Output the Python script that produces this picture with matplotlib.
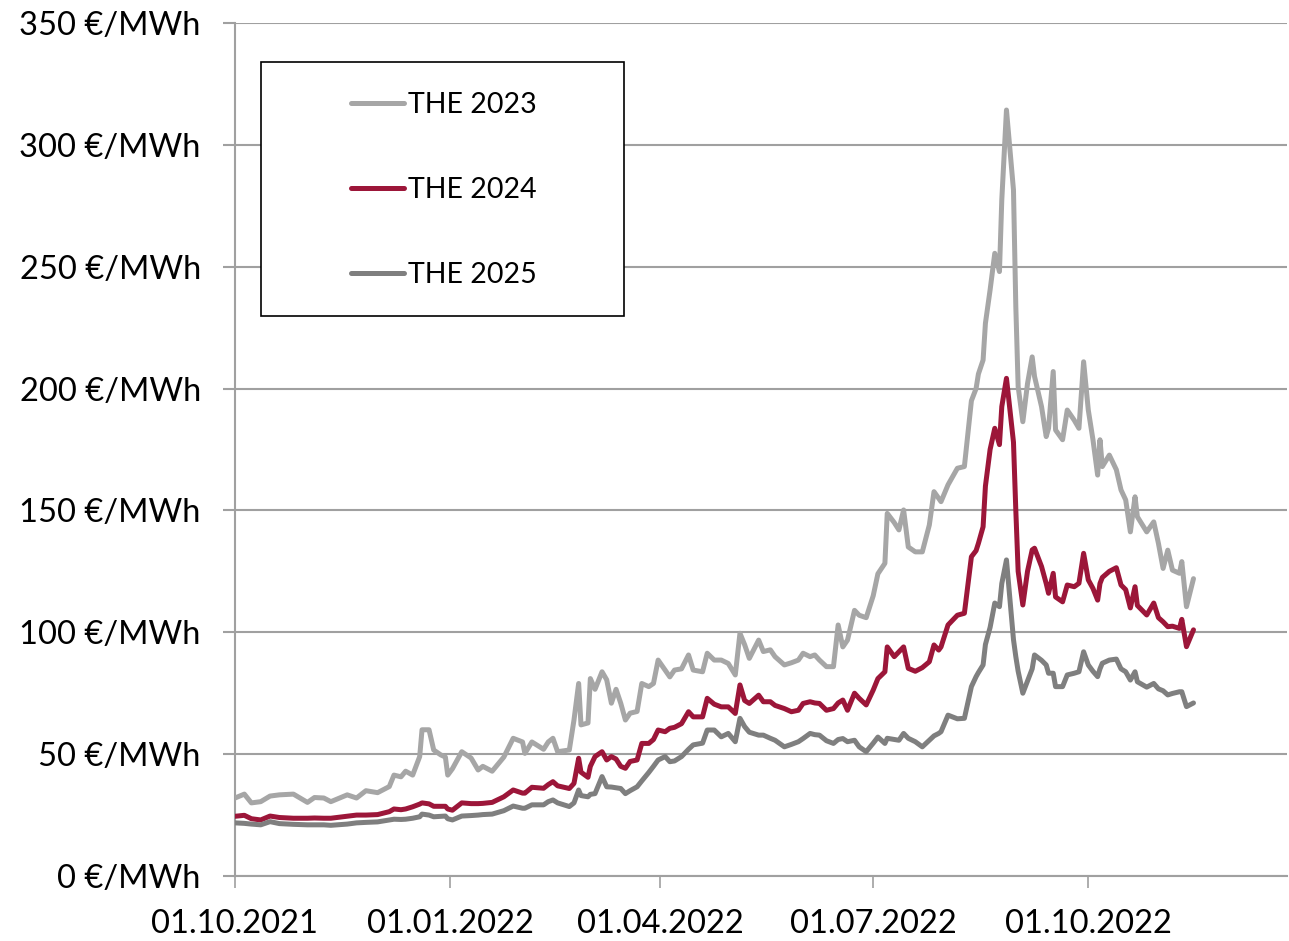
import matplotlib
matplotlib.use("Agg")
import matplotlib.pyplot as plt
import matplotlib.dates as mdates
from matplotlib.patches import Rectangle
from matplotlib.ticker import FuncFormatter
import pandas as pd

dates = [
    "2021-10-01", "2021-10-05", "2021-10-08", "2021-10-12", "2021-10-16", "2021-10-20", "2021-10-26",
    "2021-11-01", "2021-11-04", "2021-11-08", "2021-11-11", "2021-11-18", "2021-11-22", "2021-11-26",
    "2021-12-01", "2021-12-06", "2021-12-08", "2021-12-11", "2021-12-13", "2021-12-16", "2021-12-19",
    "2021-12-20", "2021-12-23", "2021-12-25", "2021-12-28", "2021-12-30", "2021-12-31",
    "2022-01-02", "2022-01-06", "2022-01-10", "2022-01-13", "2022-01-15", "2022-01-19", "2022-01-24",
    "2022-01-28", "2022-02-01", "2022-02-02", "2022-02-05", "2022-02-10", "2022-02-12", "2022-02-14",
    "2022-02-16", "2022-02-21", "2022-02-23", "2022-02-25", "2022-02-26", "2022-03-01", "2022-03-02",
    "2022-03-04", "2022-03-07", "2022-03-09", "2022-03-11", "2022-03-13", "2022-03-15", "2022-03-17",
    "2022-03-19", "2022-03-22", "2022-03-24", "2022-03-27", "2022-03-29", "2022-03-31",
    "2022-04-03", "2022-04-05", "2022-04-07", "2022-04-10", "2022-04-13", "2022-04-15", "2022-04-19",
    "2022-04-21", "2022-04-24", "2022-04-27", "2022-04-30", "2022-05-03", "2022-05-05", "2022-05-07",
    "2022-05-09", "2022-05-13", "2022-05-15", "2022-05-18", "2022-05-20", "2022-05-24", "2022-05-27",
    "2022-05-30", "2022-06-01", "2022-06-04", "2022-06-06", "2022-06-08", "2022-06-11", "2022-06-14",
    "2022-06-16", "2022-06-18", "2022-06-20", "2022-06-23", "2022-06-25", "2022-06-28",
    "2022-07-01", "2022-07-03", "2022-07-06", "2022-07-07", "2022-07-10", "2022-07-12", "2022-07-14",
    "2022-07-16", "2022-07-19", "2022-07-22", "2022-07-25", "2022-07-27", "2022-07-29", "2022-07-30",
    "2022-08-02", "2022-08-06", "2022-08-09", "2022-08-12", "2022-08-14", "2022-08-15", "2022-08-17",
    "2022-08-18", "2022-08-20", "2022-08-22", "2022-08-24", "2022-08-25", "2022-08-27", "2022-08-30",
    "2022-08-31", "2022-09-01", "2022-09-03", "2022-09-05", "2022-09-07", "2022-09-08", "2022-09-11",
    "2022-09-13", "2022-09-14", "2022-09-16", "2022-09-17", "2022-09-20", "2022-09-22", "2022-09-25",
    "2022-09-27", "2022-09-29", "2022-10-01", "2022-10-03", "2022-10-05", "2022-10-06", "2022-10-07",
    "2022-10-10", "2022-10-13", "2022-10-15", "2022-10-17", "2022-10-19", "2022-10-21", "2022-10-22",
    "2022-10-26", "2022-10-29", "2022-10-31", "2022-11-02", "2022-11-04", "2022-11-06", "2022-11-09",
    "2022-11-10", "2022-11-12", "2022-11-15",
]

the_2023 = [
    32, 33.6, 30, 30.5, 32.8, 33.3, 33.6,
    30.2, 32.2, 32, 30.5, 33.3, 32, 35,
    34.2, 36.7, 41.4, 40.7, 43, 41.4, 49,
    60, 60, 51.7, 49.7, 48.8, 41.4,
    44, 51, 48.4, 43.5, 45, 43, 48.8,
    56.5, 55, 50.3, 55, 52, 55, 56.5,
    51, 51.7, 64, 79, 62, 62.8, 81,
    76.6, 83.8, 80.5, 70.9, 76.6, 70.9, 64,
    66.8, 67.5, 79, 77.7, 79, 88.6,
    84.5, 81.7, 84.5, 85, 90.7, 84.5, 83.8,
    91.4, 88.6, 88.6, 87.2, 82.5, 99.6, 94.9,
    89.3, 96.8, 92.1, 92.8, 90, 86.6, 87.5,
    88.6, 91.4, 90, 90.7, 88.6, 85.9, 85.9,
    103, 94, 96.8, 109, 107, 106,
    115, 124, 128.3, 148.8, 145, 142, 150.2,
    135, 133, 133, 144, 157.7, 155, 153.6,
    160.5, 167.3, 168, 195, 200, 206, 211.7,
    226.8, 240.5, 255.5, 248, 277.4, 314.3, 281.5,
    233.6, 200.8, 186.4, 202, 213, 205, 192.6,
    180.3, 183.7, 207, 183, 179, 191.2, 187,
    183.7, 211, 191.2, 179, 164.5, 179, 168,
    172.7, 166.7, 158.4, 154.3, 141.2, 155.6, 147.4,
    141.2, 145.3, 136.5, 126.2, 133.7, 125.5, 124.2,
    129, 110.5, 122,
]

the_2024 = [
    24.5, 24.9, 23.5, 23, 24.6, 24, 23.7,
    23.7, 23.8, 23.7, 23.7, 24.5, 25, 25,
    25.2, 26.4, 27.5, 27.2, 27.5, 28.4, 29.5,
    30, 29.6, 28.6, 28.6, 28.6, 27.5,
    27, 30, 29.7, 29.7, 29.8, 30.2, 32.5,
    35.3, 34, 34, 36.4, 36, 37.5, 38.7,
    37, 35.9, 38, 48.3, 42.6, 40.5, 45,
    49, 51, 47.6, 49, 48, 45, 44.2,
    47, 47.6, 54.4, 54.4, 56, 59.9,
    59.2, 60.6, 61, 62.5, 67.4, 65.3, 65.3,
    72.9, 70.5, 69.4, 69.4, 66.7, 78.4, 72,
    70.8, 74.2, 71.5, 71.5, 70, 68.7, 67.4,
    68, 70.8, 71.5, 71, 70.8, 68, 68.7,
    71, 72.2, 68, 75, 72.9, 70.2,
    76.3, 81, 83.8, 94, 90, 92, 94,
    85.2, 84, 85.5, 87.9, 94.8, 92.7, 94,
    103, 107, 107.8, 131, 133.5, 136.5, 143.3,
    160, 175, 183.7, 177, 192.6, 204.2, 178,
    150, 125, 111.2, 125, 133.8, 134.5, 127,
    120, 116, 124.2, 114.5, 112.5, 119.4, 118.7,
    120.1, 132.4, 121.5, 118, 113.2, 120, 122.5,
    125, 126.5, 119.4, 117.5, 110, 118.7, 111,
    107.1, 112, 106, 104.3, 102.3, 102.5, 101.6,
    105.3, 94.1, 101,
]

the_2025 = [
    21.8, 21.6, 21.3, 21, 22.3, 21.5, 21.2,
    21, 21, 21, 20.8, 21.3, 21.8, 22,
    22.2, 23, 23.3, 23.2, 23.3, 23.7, 24.3,
    25.4, 25, 24.3, 24.5, 24.6, 23.5,
    23, 24.6, 24.8, 25, 25.2, 25.4, 26.8,
    28.7, 27.8, 27.8, 29.2, 29.2, 30.5, 31.2,
    30, 28.5, 30, 35.3, 33, 32.5, 33.5,
    33.8, 40.8, 36.6, 36.5, 36.2, 35.9, 33.8,
    35, 36.6, 39, 42.5, 45, 47.6,
    49, 46.9, 47.2, 49, 52, 53.8, 54.5,
    59.9, 59.9, 57.1, 58.5, 55.1, 64.7, 61.3,
    59, 57.8, 57.8, 56.5, 55.7, 53, 54,
    55.1, 56.4, 58.5, 58, 57.8, 55.5, 54.4,
    56, 56.4, 55.1, 55.7, 53, 51,
    54.5, 57, 54.4, 56.5, 56, 55.7, 58.5,
    56.5, 55.1, 53, 55.7, 57.5, 58.5, 59.2,
    66, 64.5, 64.7, 77.7, 81.8, 83.5, 86.6,
    95, 102, 112, 110.5, 120, 129.7, 97,
    90, 84, 75, 80, 85, 90.7, 88.5,
    86.6, 83.2, 83.2, 77.7, 77.7, 82.5, 83.2,
    83.8, 92, 86.6, 84, 81.8, 85, 87.3,
    88.6, 89, 85, 83.8, 80.4, 83.8, 79.7,
    77.5, 79, 76.8, 76, 74.3, 74.9, 75.6,
    75.6, 69.5, 71,
]

series_labels = ["THE 2023", "THE 2024", "THE 2025"]
series_colors = ["#A6A6A6", "#9C1639", "#7F7F7F"]
x_tick_dates = ["2021-10-01", "2022-01-01", "2022-04-01", "2022-07-01", "2022-10-01"]
y_tick_values = [0, 50, 100, 150, 200, 250, 300, 350]

plt.rcParams['font.family'] = ['Lato', 'DejaVu Sans']

fig = plt.figure(figsize=(12.89, 9.41), dpi=100)
ax = fig.add_axes([235 / 1289, 65 / 941, 1052 / 1289, 853 / 941])

x = pd.to_datetime(dates)
for vals, lab, col in zip([the_2023, the_2024, the_2025], series_labels, series_colors):
    ax.plot(x, vals, color=col, lw=3.6, label=lab, solid_joinstyle="round",
            solid_capstyle="round", zorder=3)

grid_col = "#A0A0A0"
ax.set_ylim(0, 350)
ax.set_xlim(pd.Timestamp("2021-10-01"), pd.Timestamp("2022-12-25"))
ax.set_yticks(y_tick_values)
ax.yaxis.set_major_formatter(FuncFormatter(lambda v, p: f"{int(v)} €/MWh"))
ax.set_xticks(pd.to_datetime(x_tick_dates))
ax.xaxis.set_major_formatter(mdates.DateFormatter("%d.%m.%Y"))
ax.grid(axis="y", color=grid_col, lw=1.5, zorder=1)
ax.set_axisbelow(True)
for s in ["top", "right"]:
    ax.spines[s].set_visible(False)
for s in ["left", "bottom"]:
    ax.spines[s].set_color(grid_col)
    ax.spines[s].set_linewidth(1.5)
ax.tick_params(axis="y", direction="out", length=8.6, width=1.5, color=grid_col,
               labelsize=23.5, pad=16, labelcolor="black")
ax.tick_params(axis="x", direction="out", length=8.6, width=1.2, color=grid_col,
               labelsize=23.5, pad=15.5, labelcolor="black")

# legend frame and entries
frame = Rectangle((261 / 1289, 1 - 316 / 941), 363 / 1289, 254 / 941,
                  transform=fig.transFigure, facecolor="white", edgecolor="black",
                  lw=1.2, zorder=4, clip_on=False)
ax.add_patch(frame)
leg = ax.legend(loc="center", bbox_to_anchor=(444 / 1289, 1 - 190 / 941),
                bbox_transform=fig.transFigure, frameon=False, fontsize=20.5,
                handlelength=1.85, handletextpad=0.15, labelspacing=2.07)
leg.set_zorder(5)

fig.savefig("out.png", dpi=100)
